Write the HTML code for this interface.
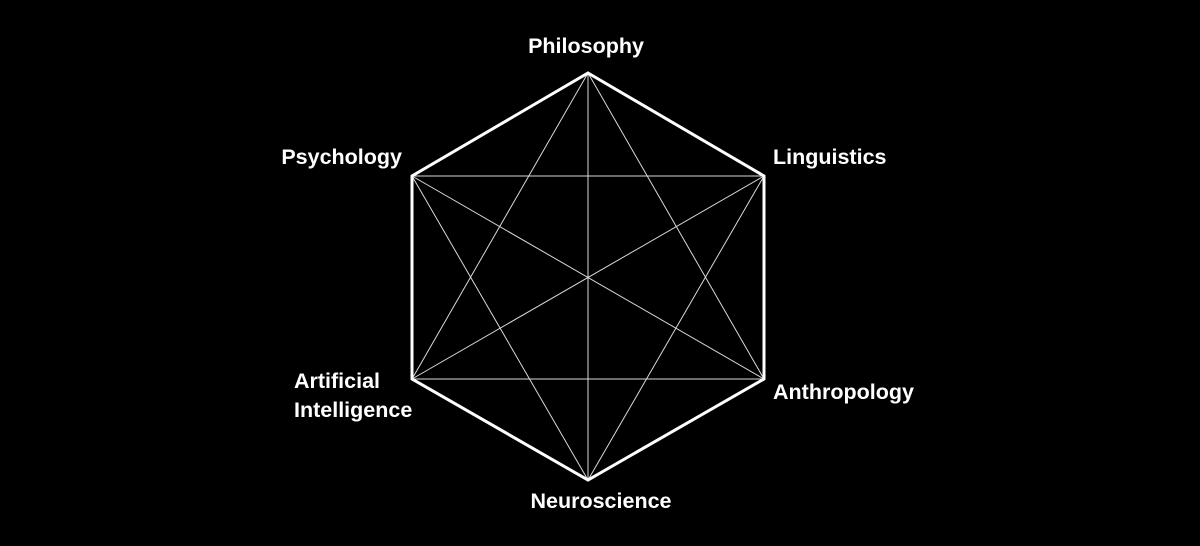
<!DOCTYPE html>
<html><head><meta charset="utf-8"><style>
html,body{margin:0;padding:0;background:#000;}
body{width:1200px;height:546px;overflow:hidden;}
svg{display:block}
text{font-family:"Liberation Sans",sans-serif;font-weight:bold;font-size:21.5px;fill:#fff;}
</style></head><body>
<svg width="1200" height="546" viewBox="0 0 1200 546">
<g stroke="#fff" stroke-width="1" opacity="0.85">
<line x1="588" y1="73" x2="588" y2="480"/>
<line x1="412" y1="176" x2="764" y2="379"/>
<line x1="764" y1="176" x2="412" y2="379"/>
<line x1="588" y1="73" x2="412" y2="379"/>
<line x1="588" y1="73" x2="764" y2="379"/>
<line x1="412" y1="176" x2="764" y2="176"/>
<line x1="412" y1="379" x2="764" y2="379"/>
<line x1="412" y1="176" x2="588" y2="480"/>
<line x1="764" y1="176" x2="588" y2="480"/>
</g>
<polygon points="588,73 764,176 764,379 588,480 412,379 412,176" fill="none" stroke="#fff" stroke-width="3" stroke-linejoin="miter"/>
<text x="586" y="53" text-anchor="middle">Philosophy</text>
<text x="402" y="164" text-anchor="end">Psychology</text>
<text x="773" y="164">Linguistics</text>
<text x="294" y="388">Artificial</text>
<text x="294" y="417">Intelligence</text>
<text x="773" y="399">Anthropology</text>
<text x="601" y="508" text-anchor="middle">Neuroscience</text>
</svg>
</body></html>
